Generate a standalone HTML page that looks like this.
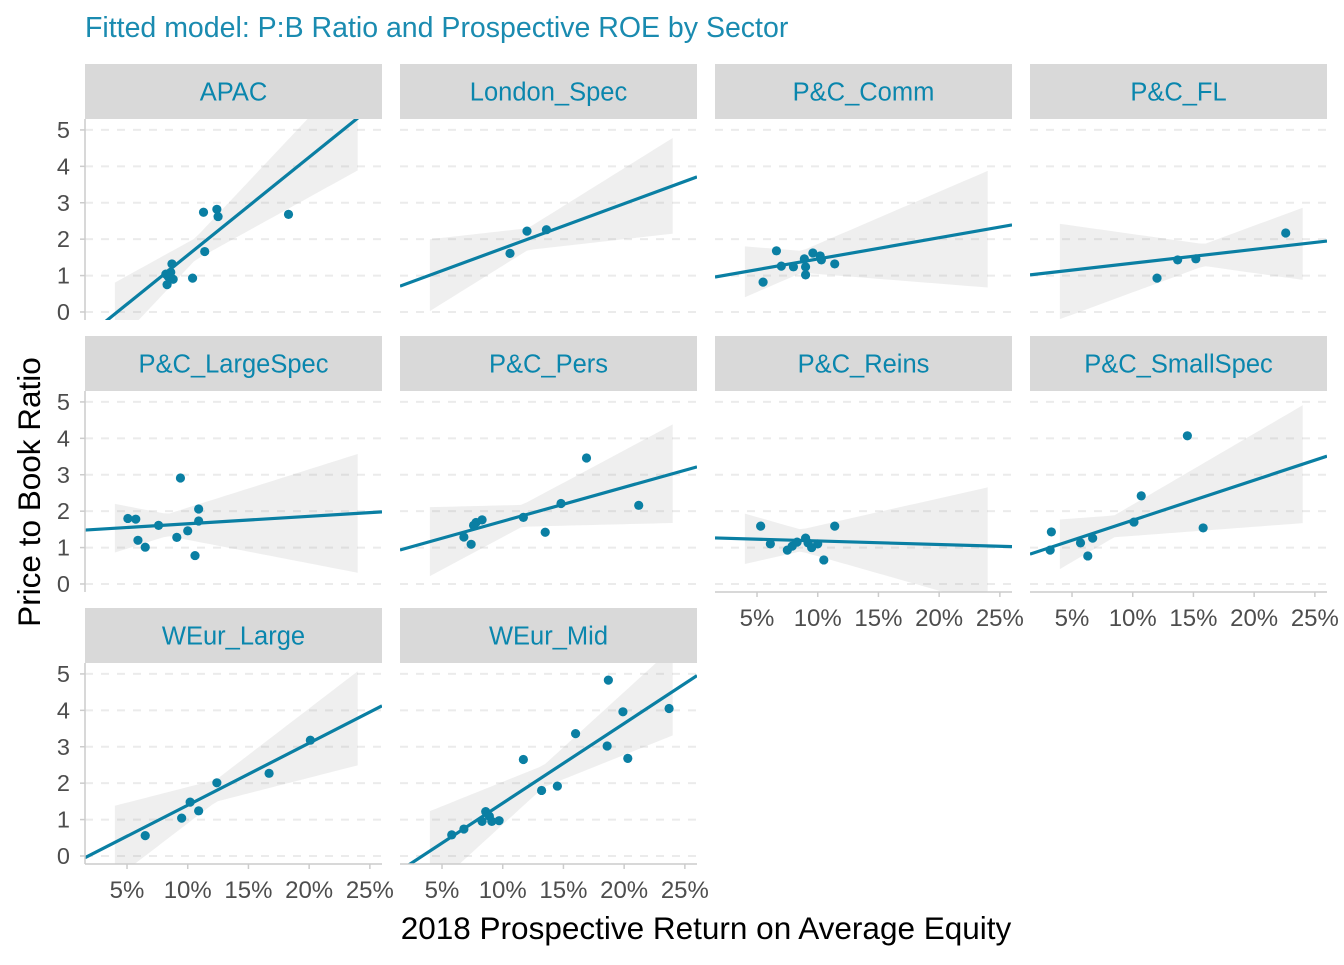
<!DOCTYPE html>
<html><head><meta charset="utf-8"><style>
body{margin:0;background:#fff;}
svg text{font-family:"Liberation Sans",Arial,sans-serif;}
</style></head><body>
<svg id="chart" width="1344" height="960" xmlns="http://www.w3.org/2000/svg">
<text x="85" y="37" font-size="28.5" fill="#1a8bb0">Fitted model: P:B Ratio and Prospective ROE by Sector</text>
<text transform="translate(40,492) rotate(-90)" text-anchor="middle" font-size="31.5" fill="#000">Price to Book Ratio</text>
<text x="706" y="939" text-anchor="middle" font-size="31.5" fill="#000">2018 Prospective Return on Average Equity</text>
</svg>
<script>
const sectors = ["APAC","London_Spec","P&C_Comm","P&C_FL","P&C_LargeSpec","P&C_Pers","P&C_Reins","P&C_SmallSpec","WEur_Large","WEur_Mid"];
const apacX = [11.3,12.4,12.5,18.3,11.4,8.7,8.2,8.8,8.3,10.4,8.4,8.6];
const apacY = [2.74,2.82,2.62,2.68,1.66,1.32,1.04,0.90,0.75,0.93,0.97,1.09];
const londonX = [12.0,13.6,10.6];
const londonY = [2.22,2.26,1.61];
const commX = [5.5,6.6,7.0,8.0,9.0,9.0,8.9,9.6,10.2,10.3,11.4];
const commY = [0.82,1.68,1.26,1.24,1.02,1.24,1.46,1.62,1.54,1.43,1.32];
const flX = [12.0,13.7,15.2,22.6];
const flY = [0.93,1.43,1.46,2.17];
const largeSpecX = [5.07,5.72,7.6,9.4,10.9,10.9,10.0,9.1,5.9,6.5,10.6];
const largeSpecY = [1.80,1.78,1.61,2.91,2.06,1.73,1.46,1.28,1.20,1.01,0.78];
const persX = [16.9,21.2,14.8,11.7,13.5,8.3,7.8,7.6,6.8,7.4];
const persY = [3.46,2.16,2.21,1.83,1.42,1.76,1.69,1.61,1.29,1.09];
const reinsX = [5.3,6.1,7.5,7.9,8.3,9.0,9.2,9.5,10.0,10.5,11.4];
const reinsY = [1.59,1.10,0.93,1.04,1.15,1.26,1.13,1.0,1.10,0.66,1.59];
const smallSpecX = [3.3,3.2,5.7,6.3,6.7,10.1,10.7,14.5,15.8];
const smallSpecY = [1.43,0.93,1.13,0.77,1.26,1.70,2.42,4.07,1.54];
const weurLargeX = [6.5,9.5,10.2,10.9,12.4,16.7,20.1];
const weurLargeY = [0.56,1.04,1.48,1.24,2.01,2.27,3.18];
const weurMidX = [18.7,19.9,23.7,16.0,18.6,20.3,11.7,14.5,13.2,5.8,6.8,8.6,8.3,9.1,9.7,8.9];
const weurMidY = [4.83,3.96,4.05,3.36,3.02,2.68,2.65,1.92,1.80,0.58,0.74,1.22,0.95,0.95,0.97,1.09];
const fitIntercepts = [-1.13,0.52,0.87,0.96,1.45,0.79,1.28,0.65,-0.31,-0.74];
const fitSlopes = [0.269,0.1227,0.0585,0.038,0.0204,0.0933,-0.0098,0.110,0.1705,0.219];
const yTicks = [0,1,2,3,4,5];
const xTicks = [5,10,15,20,25];
const xTickLabels = ["5%","10%","15%","20%","25%"];
const ribbonRange = [4,24];

const seriesX=[apacX,londonX,commX,flX,largeSpecX,persX,reinsX,smallSpecX,weurLargeX,weurMidX];
const seriesY=[apacY,londonY,commY,flY,largeSpecY,persY,reinsY,smallSpecY,weurLargeY,weurMidY];
const NS="http://www.w3.org/2000/svg";
const svg=document.getElementById('chart');
const colX=[85,400,715,1030], PW=297;
const rowY=[119,391,663], PH=201, STRIP=55;
const XMIN=1.54, XMAX=26.0, YMIN=-0.22, YMAX=5.3;
const COL="#0a7fa3";
function mk(tag,attrs,parent){const e=document.createElementNS(NS,tag);for(const k in attrs)e.setAttribute(k,attrs[k]);(parent||svg).appendChild(e);return e;}
const defs=mk('defs',{});
sectors.forEach((name,i)=>{
  const r=Math.floor(i/4), c=i%4;
  const x0=colX[c], y0=rowY[r];
  const sx=v=>x0+(v-XMIN)/(XMAX-XMIN)*PW;
  const sy=v=>y0+PH-(v-YMIN)/(YMAX-YMIN)*PH;
  const g=mk('g',{});
  
  
  const strip=mk('rect',{x:x0,y:y0-STRIP,width:PW,height:STRIP,fill:"#d9d9d9"},g);
  
  
  const st=mk('text',{x:x0+PW/2,y:y0-STRIP/2+9,'text-anchor':'middle','font-size':25.5,fill:"#0a86ad"},g);
  st.textContent=name;
  
  
  const cp=mk('clipPath',{id:'cp'+i},defs);
  mk('rect',{x:x0,y:y0,width:PW,height:PH},cp);
  yTicks.forEach(t=>{
    const gl=mk('line',{x1:x0,x2:x0+PW,y1:sy(t),y2:sy(t),stroke:"#ebebeb",'stroke-width':2,'stroke-dasharray':'8 8'},g);
    
    
  });
  const X=seriesX[i],n=X.length;
  const a=fitIntercepts[i], b=fitSlopes[i];
  const mx=X.reduce((p,q)=>p+q,0)/n;
  const up=[],lo=[];
  for(let k=0;k<=40;k++){const x=ribbonRange[0]+(ribbonRange[1]-ribbonRange[0])*k/40;
    const hw=0.3+0.085*Math.abs(x-mx), f=a+b*x;
    up.push(sx(x)+','+sy(f+hw)); lo.unshift(sx(x)+','+sy(f-hw));}
  const gc=mk('g',{'clip-path':'url(#cp'+i+')'},g);
  const rib=mk('polygon',{points:up.concat(lo).join(' '),fill:"#999",'fill-opacity':0.16},gc);
  
  
  const ln=mk('line',{x1:sx(XMIN),y1:sy(a+b*XMIN),x2:sx(XMAX),y2:sy(a+b*XMAX),stroke:COL,'stroke-width':3.2},gc);
  
  
  X.forEach((x,k)=>{
    const p=mk('circle',{cx:sx(x),cy:sy(seriesY[i][k]),r:4.6,fill:COL},gc);
    
    
  });
  if(c===0){
    const ax=mk('line',{x1:x0,x2:x0,y1:y0,y2:y0+PH,stroke:"#cccccc",'stroke-width':1.5},g);
    
    
    yTicks.forEach(tv=>{
      mk('line',{x1:x0-5,x2:x0,y1:sy(tv),y2:sy(tv),stroke:"#cccccc",'stroke-width':1.5},g);
      const tl=mk('text',{x:x0-15,y:sy(tv)+8,'text-anchor':'end','font-size':23.5,fill:"#4d4d4d"},g);
      tl.textContent=tv;
      
      
    });
  }
  const bottom=(r===2)||(r===1&&c>=2);
  if(bottom){
    const bx=mk('line',{x1:x0,x2:x0+PW,y1:y0+PH,y2:y0+PH,stroke:"#cccccc",'stroke-width':1.5},g);
    
    
    xTicks.forEach((tv,k)=>{
      mk('line',{x1:sx(tv),x2:sx(tv),y1:y0+PH,y2:y0+PH+5,stroke:"#cccccc",'stroke-width':1.5},g);
      const tl=mk('text',{x:sx(tv),y:y0+PH+34,'text-anchor':'middle','font-size':24,fill:"#4d4d4d"},g);
      tl.textContent=xTickLabels[k];
      
      
    });
  }
});
</script>
</body></html>
